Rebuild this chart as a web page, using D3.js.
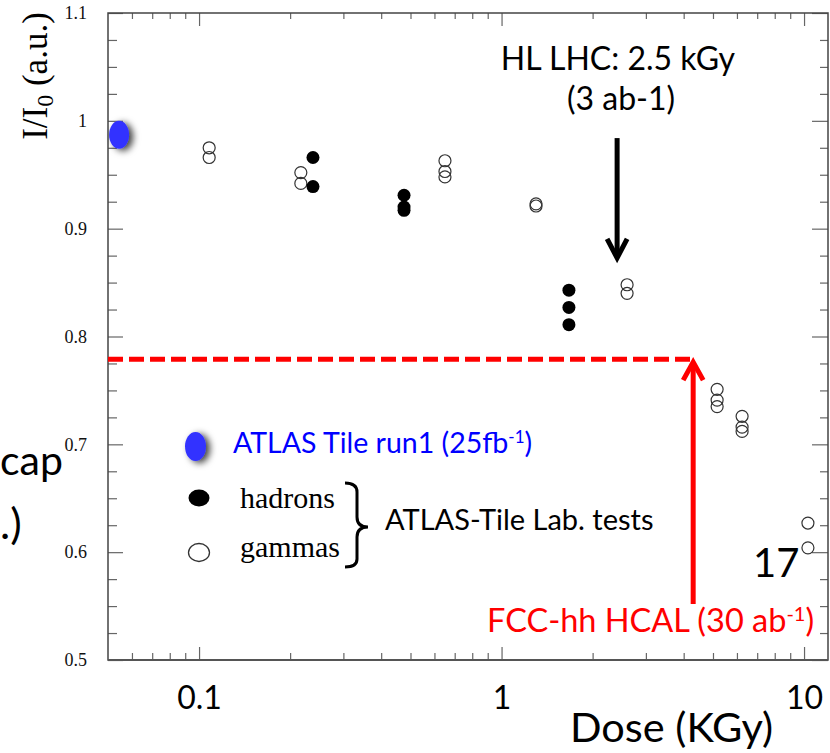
<!DOCTYPE html>
<html><head><meta charset="utf-8">
<script src="https://cdn.jsdelivr.net/npm/d3@7"></script>
<style>body{margin:0;background:#fff}svg{display:block}</style>
</head><body>
<svg id="c" width="830" height="753"></svg>
<script>
// ---- data ----
const doseMajorTicks = [0.1, 1, 10];
const doseMinorTicks = [0.06,0.07,0.08,0.09,0.2,0.3,0.4,0.5,0.6,0.7,0.8,0.9,2,3,4,5,6,7,8,9];
const yMajorTicks = [0.5,0.6,0.7,0.8,0.9,1,1.1];
const yMinorTicks = [0.525,0.55,0.575,0.625,0.65,0.675,0.725,0.75,0.775,0.825,0.85,0.875,0.925,0.95,0.975,1.025,1.05,1.075];
const atlasRun1Dose = [0.0544];
const atlasRun1Value = [0.987];
const hadronDose  = [0.238, 0.238, 0.476, 0.476, 0.476, 1.67, 1.67, 1.67];
const hadronValue = [0.966, 0.939, 0.931, 0.920, 0.917, 0.843, 0.827, 0.811];
const gammaDose  = [0.108, 0.108, 0.217, 0.217, 0.650, 0.650, 0.650, 1.30, 1.30, 2.60, 2.60, 5.16, 5.16, 5.16, 6.24, 6.24, 6.24, 10.3, 10.3];
const gammaValue = [0.975, 0.966, 0.952, 0.942, 0.963, 0.953, 0.948, 0.923, 0.921, 0.848, 0.840, 0.751, 0.741, 0.735, 0.726, 0.716, 0.712, 0.627, 0.604];
const hlLhcDose = 2.41, hlLhcFrom = 0.984, hlLhcTo = 0.871;
const fccDose = 4.3, fccLevel = 0.779, fccFrom = 0.552;

const svg = d3.select("#c");
const x = d3.scaleLog().domain([0.05, 12]).range([108, 828]);
const y = d3.scaleLinear().domain([0.5, 1.1]).range([660, 13]);
const L = 108, R = 828, T = 13, B = 660;

const defs = svg.append("defs");
const f = defs.append("filter").attr("id","sh").attr("x","-60%").attr("y","-60%").attr("width","220%").attr("height","220%");
f.append("feDropShadow").attr("dx",4).attr("dy",2).attr("stdDeviation",3.5).attr("flood-color","#000").attr("flood-opacity",0.75);

const serif = "'Liberation Serif','Times New Roman',serif";
const sans = "Lato, 'Open Sans', sans-serif";

// ---- axes ----
function styleAxis(g){ g.select(".domain").remove(); g.selectAll(".tick line").attr("stroke","#666").attr("stroke-width",1.2); }
svg.append("g").attr("transform",`translate(${L},0)`)
  .call(d3.axisLeft(y).tickValues(yMajorTicks).tickSize(-15).tickPadding(21).tickFormat(d3.format("")))
  .call(styleAxis)
  .call(g=>g.selectAll("text").attr("font-family",serif).attr("font-size",18).attr("fill","#111"));
svg.append("g").attr("transform",`translate(${L},0)`)
  .call(d3.axisLeft(y).tickValues(yMinorTicks).tickSize(-9).tickFormat("")).call(styleAxis);
svg.append("g").attr("transform",`translate(${R},0)`)
  .call(d3.axisRight(y).tickValues(yMajorTicks).tickSize(-16).tickFormat("")).call(styleAxis);
svg.append("g").attr("transform",`translate(${R},0)`)
  .call(d3.axisRight(y).tickValues(yMinorTicks).tickSize(-8).tickFormat("")).call(styleAxis);
svg.append("g").attr("transform",`translate(0,${B})`)
  .call(d3.axisBottom(x).tickValues(doseMajorTicks).tickSize(-13).tickPadding(26).tickFormat(d3.format("")))
  .call(styleAxis)
  .call(g=>g.selectAll("text").attr("font-family",sans).attr("font-size",32).attr("fill","#000"));
svg.append("g").attr("transform",`translate(0,${B})`)
  .call(d3.axisBottom(x).tickValues(doseMinorTicks).tickSize(-7).tickFormat("")).call(styleAxis);
svg.append("g").attr("transform",`translate(0,${T})`)
  .call(d3.axisTop(x).tickValues(doseMajorTicks).tickSize(-13).tickFormat("")).call(styleAxis);
svg.append("g").attr("transform",`translate(0,${T})`)
  .call(d3.axisTop(x).tickValues(doseMinorTicks).tickSize(-6).tickFormat("")).call(styleAxis);

// frame
svg.append("path").attr("d",`M${L},${T}H${R}V${B}H${L}Z`).attr("fill","none").attr("stroke","#444").attr("stroke-width",1.5);
svg.append("line").attr("x1",L).attr("x2",R).attr("y1",B).attr("y2",B).attr("stroke","#555").attr("stroke-width",2.2);

// y label
const yl = svg.append("text").attr("transform","translate(47,76) rotate(-90)").attr("text-anchor","middle")
  .attr("font-family",serif).attr("font-size",35).attr("fill","#000");
yl.append("tspan").text("I/I");
yl.append("tspan").attr("font-size",24).attr("dy",6).text("0");
yl.append("tspan").attr("dy",-6).text(" (a.u.)");

// ---- data marks ----
svg.append("g").selectAll("ellipse").data(atlasRun1Dose).join("ellipse")
  .attr("cx",(d)=>x(d)).attr("cy",(d,i)=>y(atlasRun1Value[i])).attr("rx",10).attr("ry",14)
  .attr("fill","#3333ff").attr("filter","url(#sh)");
svg.append("g").selectAll("circle").data(gammaDose).join("circle")
  .attr("cx",d=>x(d)).attr("cy",(d,i)=>y(gammaValue[i])).attr("r",6)
  .attr("fill","none").attr("stroke","#333").attr("stroke-width",1.2);
svg.append("g").selectAll("circle").data(hadronDose).join("circle")
  .attr("cx",d=>x(d)).attr("cy",(d,i)=>y(hadronValue[i])).attr("r",6.5).attr("fill","#000");

// ---- annotations ----
// HL LHC arrow
const ax = x(hlLhcDose), ay0 = y(hlLhcFrom), ay1 = y(hlLhcTo);
svg.append("line").attr("x1",ax).attr("x2",ax).attr("y1",ay0).attr("y2",ay1-3).attr("stroke","#000").attr("stroke-width",5);
svg.append("path").attr("d",`M${ax-10},${ay1-21}L${ax},${ay1-2}L${ax+10},${ay1-21}`)
  .attr("fill","none").attr("stroke","#000").attr("stroke-width",5).attr("stroke-linejoin","miter");
svg.append("text").attr("x",618).attr("y",70).attr("text-anchor","middle").attr("font-family",sans).attr("font-size",32).text("HL LHC: 2.5 kGy");
svg.append("text").attr("x",621).attr("y",110).attr("text-anchor","middle").attr("font-family",sans).attr("font-size",32).text("(3 ab-1)");

// FCC dashed line + arrow
const fx = x(fccDose), fy = y(fccLevel);
svg.append("line").attr("x1",L).attr("x2",fx).attr("y1",fy).attr("y2",fy)
  .attr("stroke","#ff0000").attr("stroke-width",5).attr("stroke-dasharray","15,6");
svg.append("line").attr("x1",fx).attr("x2",fx).attr("y1",y(fccFrom)).attr("y2",fy+4).attr("stroke","#ff0000").attr("stroke-width",5);
svg.append("path").attr("d",`M${fx-10},${fy+21}L${fx},${fy+3}L${fx+10},${fy+21}`)
  .attr("fill","none").attr("stroke","#ff0000").attr("stroke-width",5);
const ft = svg.append("text").attr("x",487).attr("y",632).attr("font-family",sans).attr("font-size",32.5).attr("fill","#ff0000");
ft.append("tspan").text("FCC-hh HCAL (30 ab");
ft.append("tspan").attr("font-size",20).attr("dy",-11).text("-1");
ft.append("tspan").attr("dy",11).text(")");

// legend
svg.append("ellipse").attr("cx",195.5).attr("cy",446.5).attr("rx",10.5).attr("ry",14.5).attr("fill","#3333ff").attr("filter","url(#sh)");
const lt = svg.append("text").attr("x",233).attr("y",453).attr("font-family",sans).attr("font-size",28.5).attr("fill","#0000ff");
lt.append("tspan").text("ATLAS Tile run1 (25fb");
lt.append("tspan").attr("font-size",17).attr("dy",-10).text("-1");
lt.append("tspan").attr("dy",10).text(")");
svg.append("ellipse").attr("cx",199).attr("cy",498).attr("rx",10.5).attr("ry",8.5).attr("fill","#000");
svg.append("ellipse").attr("cx",199).attr("cy",552.5).attr("rx",10.5).attr("ry",9).attr("fill","none").attr("stroke","#333").attr("stroke-width",1.3);
svg.append("text").attr("x",240).attr("y",508).attr("font-family",serif).attr("font-size",30).text("hadrons");
svg.append("text").attr("x",240).attr("y",557).attr("font-family",serif).attr("font-size",30).text("gammas");
svg.append("path").attr("d","M345,483 Q357,483 357,492 L357,517 Q357,527 368,527 Q357,527 357,537 L357,559 Q357,567 345,567")
  .attr("fill","none").attr("stroke","#000").attr("stroke-width",3);
svg.append("text").attr("x",385).attr("y",530).attr("font-family",sans).attr("font-size",29).text("ATLAS-Tile Lab. tests");

// stray slide texts
svg.append("text").attr("x",0).attr("y",475).attr("font-family",sans).attr("font-size",41).text("cap");
svg.append("text").attr("x",0).attr("y",539).attr("font-family",sans).attr("font-size",43).text(".)");
svg.append("text").attr("x",753).attr("y",577).attr("font-family",sans).attr("font-size",40).text("17");
svg.append("text").attr("x",570).attr("y",742).attr("font-family",sans).attr("font-size",41.5).text("Dose (KGy)");
</script>
</body></html>
